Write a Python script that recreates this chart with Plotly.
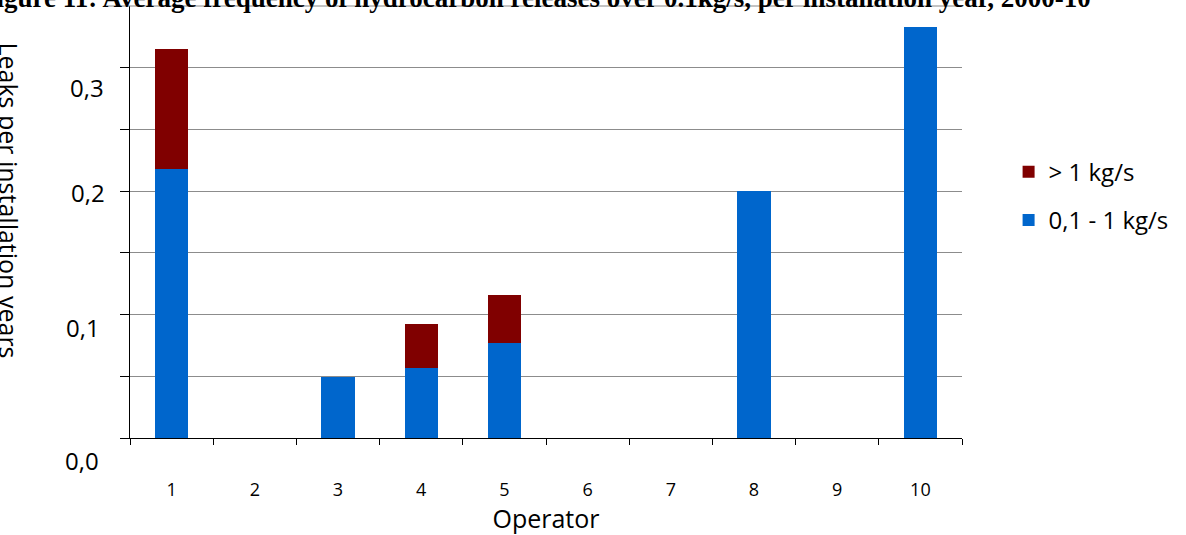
import plotly.graph_objects as go

operators = ["1", "2", "3", "4", "5", "6", "7", "8", "9", "10"]
small_leaks = [0.218, 0, 0.0495, 0.057, 0.077, 0, 0, 0.200, 0, 0.333]
large_leaks = [0.097, 0, 0, 0.035, 0.039, 0, 0, 0, 0, 0]
y_tickvals = [0, 0.05, 0.1, 0.15, 0.2, 0.25, 0.3]
y_labels = [0.0, 0.1, 0.2, 0.3]
y_label_text = ["0,0", "0,1", "0,2", "0,3"]

title_text = "Figure 11: Average frequency of hydrocarbon releases over 0.1kg/s, per installation year, 2000-10"
font_main = "'Open Sans', Lato, sans-serif"

fig = go.Figure()
fig.add_trace(go.Bar(x=operators, y=small_leaks, name="0,1 - 1 kg/s", legendgroup="a",
                     legendrank=2,
                     marker=dict(color="#0066CC", line=dict(width=0))))
fig.add_trace(go.Bar(x=operators, y=large_leaks, name="> 1 kg/s", legendgroup="b",
                     legendrank=1,
                     marker=dict(color="#800000", line=dict(width=0))))

fig.update_layout(
    width=1186, height=535,
    barmode="stack", bargap=0.6,
    paper_bgcolor="white", plot_bgcolor="white",
    margin=dict(l=130, r=224, t=6, b=97, autoexpand=False),
    font=dict(family=font_main, color="black"),
    legend=dict(traceorder="grouped", x=1.056, xanchor="left", y=0.56, yanchor="middle",
                font=dict(size=24, family=font_main), itemwidth=30, tracegroupgap=14),
    showlegend=True,
)
fig.update_xaxes(
    type="category", showline=True, linecolor="black", linewidth=1,
    ticks="outside", tickson="boundaries", ticklen=6, tickcolor="black",
    tickfont=dict(size=18, family=font_main), ticklabelstandoff=35,
    title=dict(text="Operator", font=dict(size=25, family=font_main), standoff=10),
    range=[-0.5, 9.5], showgrid=False,
)
fig.update_yaxes(
    range=[0, 0.35], tickvals=y_tickvals, ticktext=[""] * len(y_tickvals),
    showline=True, linecolor="black", linewidth=1,
    ticks="outside", ticklen=9, tickcolor="black",
    showgrid=True, gridcolor="#8c8c8c", gridwidth=1, zeroline=False,
)
# y tick labels (placed as in the original, with small offsets)
label_dx = [-48, -47, -42, -43]
label_dy = [-22, -13, -1, -20]
for v, t, dx, dy in zip(y_labels, y_label_text, label_dx, label_dy):
    fig.add_annotation(text=t, xref="paper", yref="y", x=0, y=v, xanchor="center",
                       yanchor="middle", xshift=dx, yshift=dy, showarrow=False,
                       font=dict(size=24, family=font_main, color="black"))

# title, clipped at the top edge
fig.add_annotation(text="<b>" + title_text + "</b>", xref="paper", yref="paper",
                   x=0.487, y=1.0, xanchor="center", yanchor="middle", yshift=8,
                   showarrow=False,
                   font=dict(family="Liberation Serif, Times New Roman, serif", size=27, color="black"))
# y axis title, clipped at the left edge
fig.add_annotation(text="Leaks per installation years", xref="paper", yref="paper",
                   x=0, y=0.55, xshift=-140, textangle=90, showarrow=False,
                   font=dict(size=25, family=font_main, color="black"))
# title underline
fig.add_shape(type="line", xref="paper", yref="paper", x0=-0.028, x1=1.0, y0=1.0, y1=1.0,
              line=dict(color="#888888", width=1))

fig.write_html("out.html", config={"displayModeBar": False},
               post_script="document.body.style.margin='0px';")
